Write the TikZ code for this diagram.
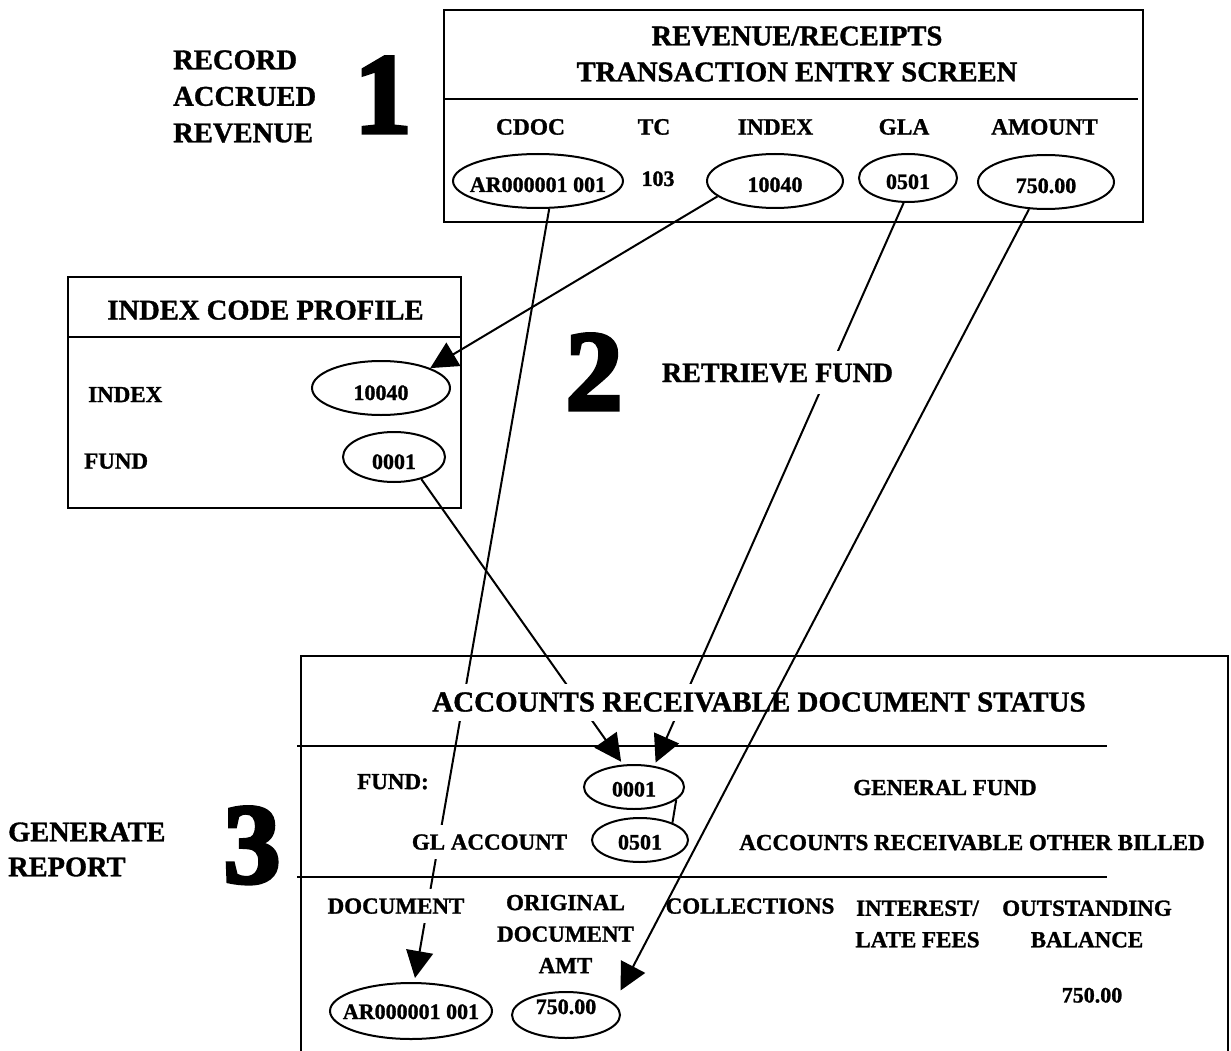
\documentclass[tikz,border=0pt]{standalone}
\usepackage{fontspec}
\setmainfont{Liberation Serif}[BoldFeatures={FakeBold=1.2}]
\newfontfamily\digitfont{Liberation Serif}[BoldFeatures={FakeBold=3.5}]
\usetikzlibrary{shapes.geometric,arrows.meta}
\newcommand{\ovtx}[1]{\makebox[0pt][c]{#1}}
\begin{document}
\begin{tikzpicture}[x=1pt,y=-1pt,
  box/.style={line width=2.4pt},
  oval/.style={ellipse,draw,line width=2pt,inner sep=0pt,font=\bfseries\fontsize{22}{26}\selectfont,text height=22pt,text depth=0pt},
  conn/.style={line width=2pt},
  arr/.style={conn,-{Triangle[length=27pt,width=27pt]}},
  lab/.style={fill=white,inner xsep=3pt,inner ysep=9pt,font=\bfseries\fontsize{23}{31}\selectfont,text height=15.2pt,text depth=0pt},
  big/.style={fill=white,inner xsep=3pt,inner ysep=9pt,font=\bfseries\fontsize{28.6}{36}\selectfont,text height=19pt,text depth=0pt},
  multi/.style={fill=white,inner sep=0pt,align=center,font=\bfseries\fontsize{23}{31.5}\selectfont},
  digit/.style={inner sep=0pt,font=\digitfont\bfseries\fontsize{114}{114}\selectfont,text height=77pt,text depth=0pt},
]
\useasboundingbox[fill=white] (0,0) rectangle (1231,1051);
% frames
\draw[box] (444,10) rectangle (1143,222);
\draw[box] (443,99) -- (1138,99);
\draw[box] (68,277) rectangle (461,508);
\draw[box] (68,337) -- (461,337);
\draw[box] (301,1060) -- (301,656) -- (1228,656) -- (1228,1060);
\draw[box] (297,746) -- (1107,746);
\draw[box] (297,877) -- (1107,877);
% ovals
\node[oval,minimum width=170pt,minimum height=54pt] (cdoc) at (538,181) {\ovtx{AR000001 001}};
\node[oval,minimum width=136pt,minimum height=54pt] (index) at (775,181) {\ovtx{10040}};
\node[oval,minimum width=98pt,minimum height=48pt] (gla) at (908,178) {\ovtx{0501}};
\node[oval,minimum width=136pt,minimum height=54pt] (amt) at (1046,182) {\ovtx{750.00}};
\node[oval,minimum width=138pt,minimum height=54pt,text height=24pt] (pidx) at (381,388) {\ovtx{10040}};
\node[oval,minimum width=102pt,minimum height=50pt,text height=24pt] (pfund) at (394,457) {\ovtx{0001}};
\node[oval,minimum width=100pt,minimum height=44pt,text height=19pt] (bfund) at (634,787) {\ovtx{0001}};
\node[oval,minimum width=96pt,minimum height=44pt,text height=19pt] (bgl) at (640,840) {\ovtx{0501}};
\node[oval,minimum width=162pt,minimum height=56pt,text height=16pt] (bdoc) at (411,1011) {\ovtx{AR000001 001}};
\node[oval,minimum width=108pt,minimum height=46pt,text height=0pt,text depth=2pt] (bamt) at (566,1015) {\ovtx{750.00}};
% connectors behind text
\draw[arr] (cdoc.-68) -- ([xshift=4pt,yshift=4pt]bdoc.north);
\draw[arr] (index.195) -- (pidx.22);
\draw[arr] (gla.-100) -- ([xshift=3pt,yshift=3pt]bfund.49);
\draw[arr] (pfund.-39) -- ([yshift=3pt]bfund.120);
\draw[conn] (bfund.-17) -- (bgl.28);
% texts
\node[multi,font=\bfseries\fontsize{28.6}{36}\selectfont] (ttl1) at (797,54) {REVENUE/RECEIPTS\\TRANSACTION ENTRY SCREEN};
\node[lab,font=\bfseries\fontsize{23.4}{31}\selectfont] (hcdoc) at (530.5,127) {CDOC};
\node[lab,font=\bfseries\fontsize{23.4}{31}\selectfont] (htc) at (654,127) {TC};
\node[lab,font=\bfseries\fontsize{23.4}{31}\selectfont] (hindex) at (775.5,127) {INDEX};
\node[lab,font=\bfseries\fontsize{23.4}{31}\selectfont] (hgla) at (904,127) {GLA};
\node[lab,font=\bfseries\fontsize{23.4}{31}\selectfont] (hamt) at (1044.5,127) {AMOUNT};
\node[lab,inner ysep=2pt,font=\bfseries\fontsize{22}{26}\selectfont,text height=14.9pt] (tc) at (658,178.5) {103};
\node[multi,align=left,anchor=west,font=\bfseries\fontsize{28.6}{36.5}\selectfont] (rec) at (173,96.5) {RECORD\\ACCRUED\\REVENUE};
\node[digit] (one) at (383,94) {1};
\node[big] (ptitle) at (265.5,310) {INDEX CODE PROFILE};
\node[lab,anchor=west,inner xsep=0pt] (pindexl) at (88,394.5) {INDEX};
\node[lab,anchor=west,inner xsep=0pt] (pfundl) at (84,461) {FUND};
\node[digit] (two) at (594,371) {2};
\node[big,inner ysep=12pt,font=\bfseries\fontsize{28}{36}\selectfont] (retr) at (777.5,372.5) {RETRIEVE FUND};
\node[digit] (three) at (252,844) {3};
\node[multi,align=left,anchor=west,font=\bfseries\fontsize{28.4}{35}\selectfont] (gen) at (8,849.5) {GENERATE\\REPORT};
\node[big,font=\bfseries\fontsize{29}{36}\selectfont] (btitle) at (759,702) {ACCOUNTS RECEIVABLE DOCUMENT STATUS};
\node[lab,anchor=west,inner xsep=0pt] (bfundl) at (357,781.5) {FUND:};
\node[lab] (bgll) at (489.5,842) {GL ACCOUNT};
\node[lab] (genf) at (945,787.5) {GENERAL FUND};
\node[lab] (arob) at (972,842.5) {ACCOUNTS RECEIVABLE OTHER BILLED};
\node[lab] (hdoc) at (396,906) {DOCUMENT};
\node[multi] (horig) at (565.5,934) {ORIGINAL\\DOCUMENT\\AMT};
\node[lab] (hcoll) at (750,906) {COLLECTIONS};
\node[multi] (hint) at (917.5,924) {INTEREST/\\LATE FEES};
\node[multi] (hout) at (1087,924) {OUTSTANDING\\BALANCE};
\node[lab,font=\bfseries\fontsize{22}{26}\selectfont,text height=14.9pt] (bal) at (1092,995) {750.00};
% connector drawn over text
\draw[arr] (amt.-122) -- ([xshift=17pt,yshift=7pt]bamt.25);
\end{tikzpicture}
\end{document}
